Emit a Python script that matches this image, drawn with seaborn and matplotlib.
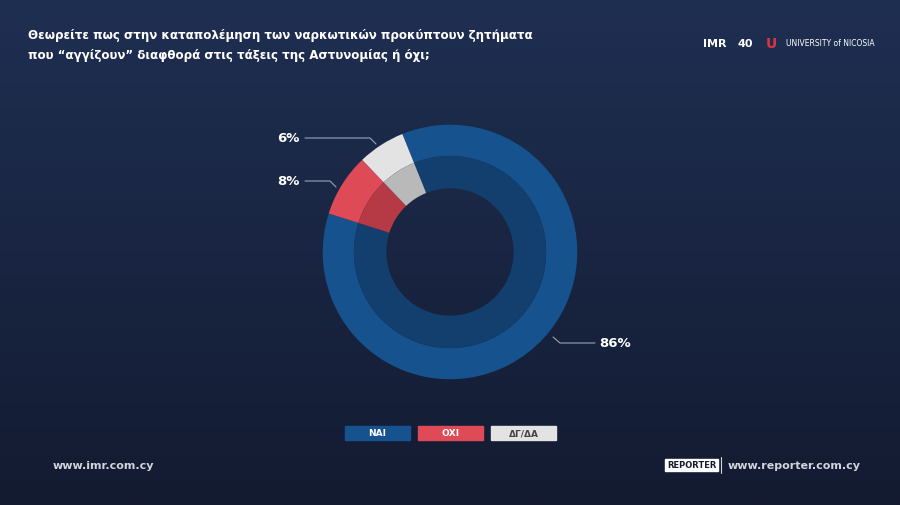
import numpy as np
import matplotlib.pyplot as plt
import seaborn as sns
from matplotlib.colors import LinearSegmentedColormap

sns.set_theme(style='white')

# data
labels = ['ΝΑΙ', 'ΟΧΙ', 'ΔΓ/ΔΑ']
values = [86, 8, 6]
outer_colors = ['#15528e', '#de4a55', '#e3e3e3']
inner_colors = ['#123f6e', '#b53a45', '#b9b9b9']
pct_text = ['86%', '8%', '6%']

fig = plt.figure(figsize=(9, 5.06), dpi=100)

def fx(x): return x / 900
def fy(y): return 1 - y / 506

# background gradient
bg = fig.add_axes([0, 0, 1, 1])
grad = np.linspace(0, 1, 256).reshape(-1, 1)
cmap = LinearSegmentedColormap.from_list('bg', ['#1f2f52', '#131b31'])
bg.imshow(grad, aspect='auto', cmap=cmap, extent=[0, 1, 0, 1])
bg.set_axis_off()

# donut
ax = fig.add_axes([fx(450 - 140), fy(253 + 140), 280 / 900, 280 / 506])
ax.pie(values, colors=outer_colors, radius=1.0, startangle=112, counterclock=False,
       wedgeprops=dict(width=0.245, linewidth=0))
ax.pie(values, colors=inner_colors, radius=0.755, startangle=112, counterclock=False,
       wedgeprops=dict(width=0.255, linewidth=0))
ax.set_xlim(-1.1, 1.1)
ax.set_ylim(-1.1, 1.1)
ax.set_aspect('equal')

# callouts
line_kw = dict(color='#9aa3b5', lw=0.8, transform=fig.transFigure)
bg.add_line(plt.Line2D([fx(553), fx(560), fx(595)], [fy(338), fy(344), fy(344)], **line_kw))
bg.add_line(plt.Line2D([fx(305), fx(330), fx(336)], [fy(182), fy(182), fy(188)], **line_kw))
bg.add_line(plt.Line2D([fx(305), fx(370), fx(376)], [fy(139), fy(139), fy(145)], **line_kw))
fig.text(fx(599), fy(344), pct_text[0], color='white', fontsize=9.5, fontweight='bold', va='center')
fig.text(fx(300), fy(182), pct_text[1], color='white', fontsize=9.5, fontweight='bold', va='center', ha='right')
fig.text(fx(300), fy(139), pct_text[2], color='white', fontsize=9.5, fontweight='bold', va='center', ha='right')

# legend boxes
for i, (lab, c) in enumerate(zip(labels, outer_colors)):
    x0 = 345 + i * 73
    bg.add_patch(plt.Rectangle((fx(x0), fy(441)), 65 / 900, 14 / 506, color=c, transform=fig.transFigure))
    fig.text(fx(x0 + 32.5), fy(434), lab, color='#444444' if i == 2 else 'white',
             fontsize=6.5, fontweight='bold', ha='center', va='center')

# title
fig.text(fx(28), fy(36), 'Θεωρείτε πως στην καταπολέμηση των ναρκωτικών προκύπτουν ζητήματα',
         color='white', fontsize=8.6, fontweight='bold', va='center')
fig.text(fx(28), fy(56), 'που “αγγίζουν” διαφθορά στις τάξεις της Αστυνομίας ή όχι;',
         color='white', fontsize=8.6, fontweight='bold', va='center')

# logos as text
fig.text(fx(703), fy(44), 'IMR', color='white', fontsize=8, fontweight='bold', va='center')
fig.text(fx(737), fy(44), '40', color='white', fontsize=8, fontweight='bold', va='center')
fig.text(fx(766), fy(44), 'U', color='#d9343f', fontsize=10, fontweight='bold', va='center')
fig.text(fx(786), fy(44), 'UNIVERSITY of NICOSIA', color='white', fontsize=5.5, va='center')

# footer
fig.text(fx(53), fy(466), 'www.imr.com.cy', color='#d0d4dc', fontsize=8, fontweight='bold', va='center')
fig.text(fx(728), fy(466), 'www.reporter.com.cy', color='#d0d4dc', fontsize=8, fontweight='bold',
         va='center', ha='left')
fig.text(fx(667), fy(466), 'REPORTER', color='#131b31', fontsize=6, fontweight='bold', va='center',
         bbox=dict(boxstyle='square,pad=0.2', fc='white', ec='white'))
bg.add_line(plt.Line2D([fx(721), fx(721)], [fy(458), fy(474)], color='#d0d4dc', lw=0.8,
                       transform=fig.transFigure))

fig.savefig('out.png', dpi=100)
